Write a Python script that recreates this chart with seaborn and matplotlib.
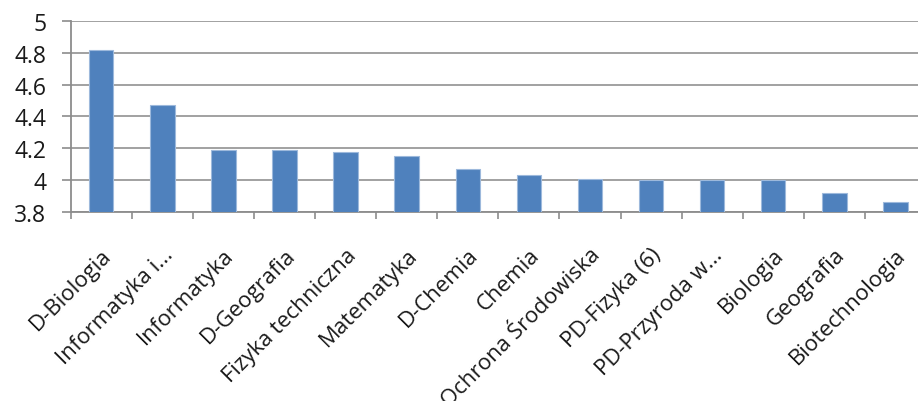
import matplotlib
matplotlib.use('Agg')
import matplotlib.pyplot as plt
import seaborn as sns
import pandas as pd

# data
categories = ['D-Biologia', 'Informatyka i...', 'Informatyka', 'D-Geografia',
              'Fizyka techniczna', 'Matematyka', 'D-Chemia', 'Chemia',
              'Ochrona Środowiska', 'PD-Fizyka (6)', 'PD-Przyroda w...',
              'Biologia', 'Geografia', 'Biotechnologia']
values = [4.82, 4.47, 4.19, 4.19, 4.18, 4.15, 4.07, 4.03, 4.01, 4.00, 4.00, 4.00, 3.92, 3.86]
yticks = [3.8, 4, 4.2, 4.4, 4.6, 4.8, 5]
ytick_labels = ['3.8', '4', '4.2', '4.4', '4.6', '4.8', '5']

df = pd.DataFrame({'kierunek': categories, 'ocena': values})

sns.set_style('white')
plt.rcParams['font.family'] = ['Open Sans', 'DejaVu Sans']

fig = plt.figure(figsize=(9.18, 4.02), dpi=100)
ax = fig.add_axes([70.7 / 918, 189 / 402, (926 - 70.7) / 918, (213 - 22) / 402])

sns.barplot(data=df, x='kierunek', y='ocena', color='#4F81BD', saturation=1, width=0.4,
            edgecolor='#9DB9DC', linewidth=0.8, ax=ax, zorder=3)

ax.set_ylim(3.8, 5)
ax.set_xlim(-0.5, len(categories) - 0.5)
ax.set_yticks(yticks)
ax.set_yticklabels(ytick_labels)
ax.yaxis.grid(True, color='#9A9A9A', linewidth=1.3, zorder=0)
ax.set_axisbelow(True)

# category labels on major ticks, boundary tick marks as minor ticks
ax.set_xticks(range(len(categories)))
ax.set_xticklabels(categories, rotation=45, ha='right', rotation_mode='anchor')
ax.set_xticks([i - 0.5 for i in range(len(categories) + 1)], minor=True)
ax.tick_params(axis='x', which='major', length=0, pad=23, labelsize=16, colors='#1A1A1A')
ax.tick_params(axis='x', which='minor', length=5, width=1.2, color='#8C8C8C', direction='out', bottom=True)
ax.tick_params(axis='y', length=6.5, width=1.2, color='#8C8C8C', direction='out', left=True,
               pad=11, labelsize=16.5, labelcolor='#1A1A1A')

for side in ['top', 'right']:
    ax.spines[side].set_visible(False)
for side in ['left', 'bottom']:
    ax.spines[side].set_color('#8C8C8C')
    ax.spines[side].set_linewidth(1.3)

ax.set_xlabel('')
ax.set_ylabel('')

plt.savefig('out.png', dpi=100)
